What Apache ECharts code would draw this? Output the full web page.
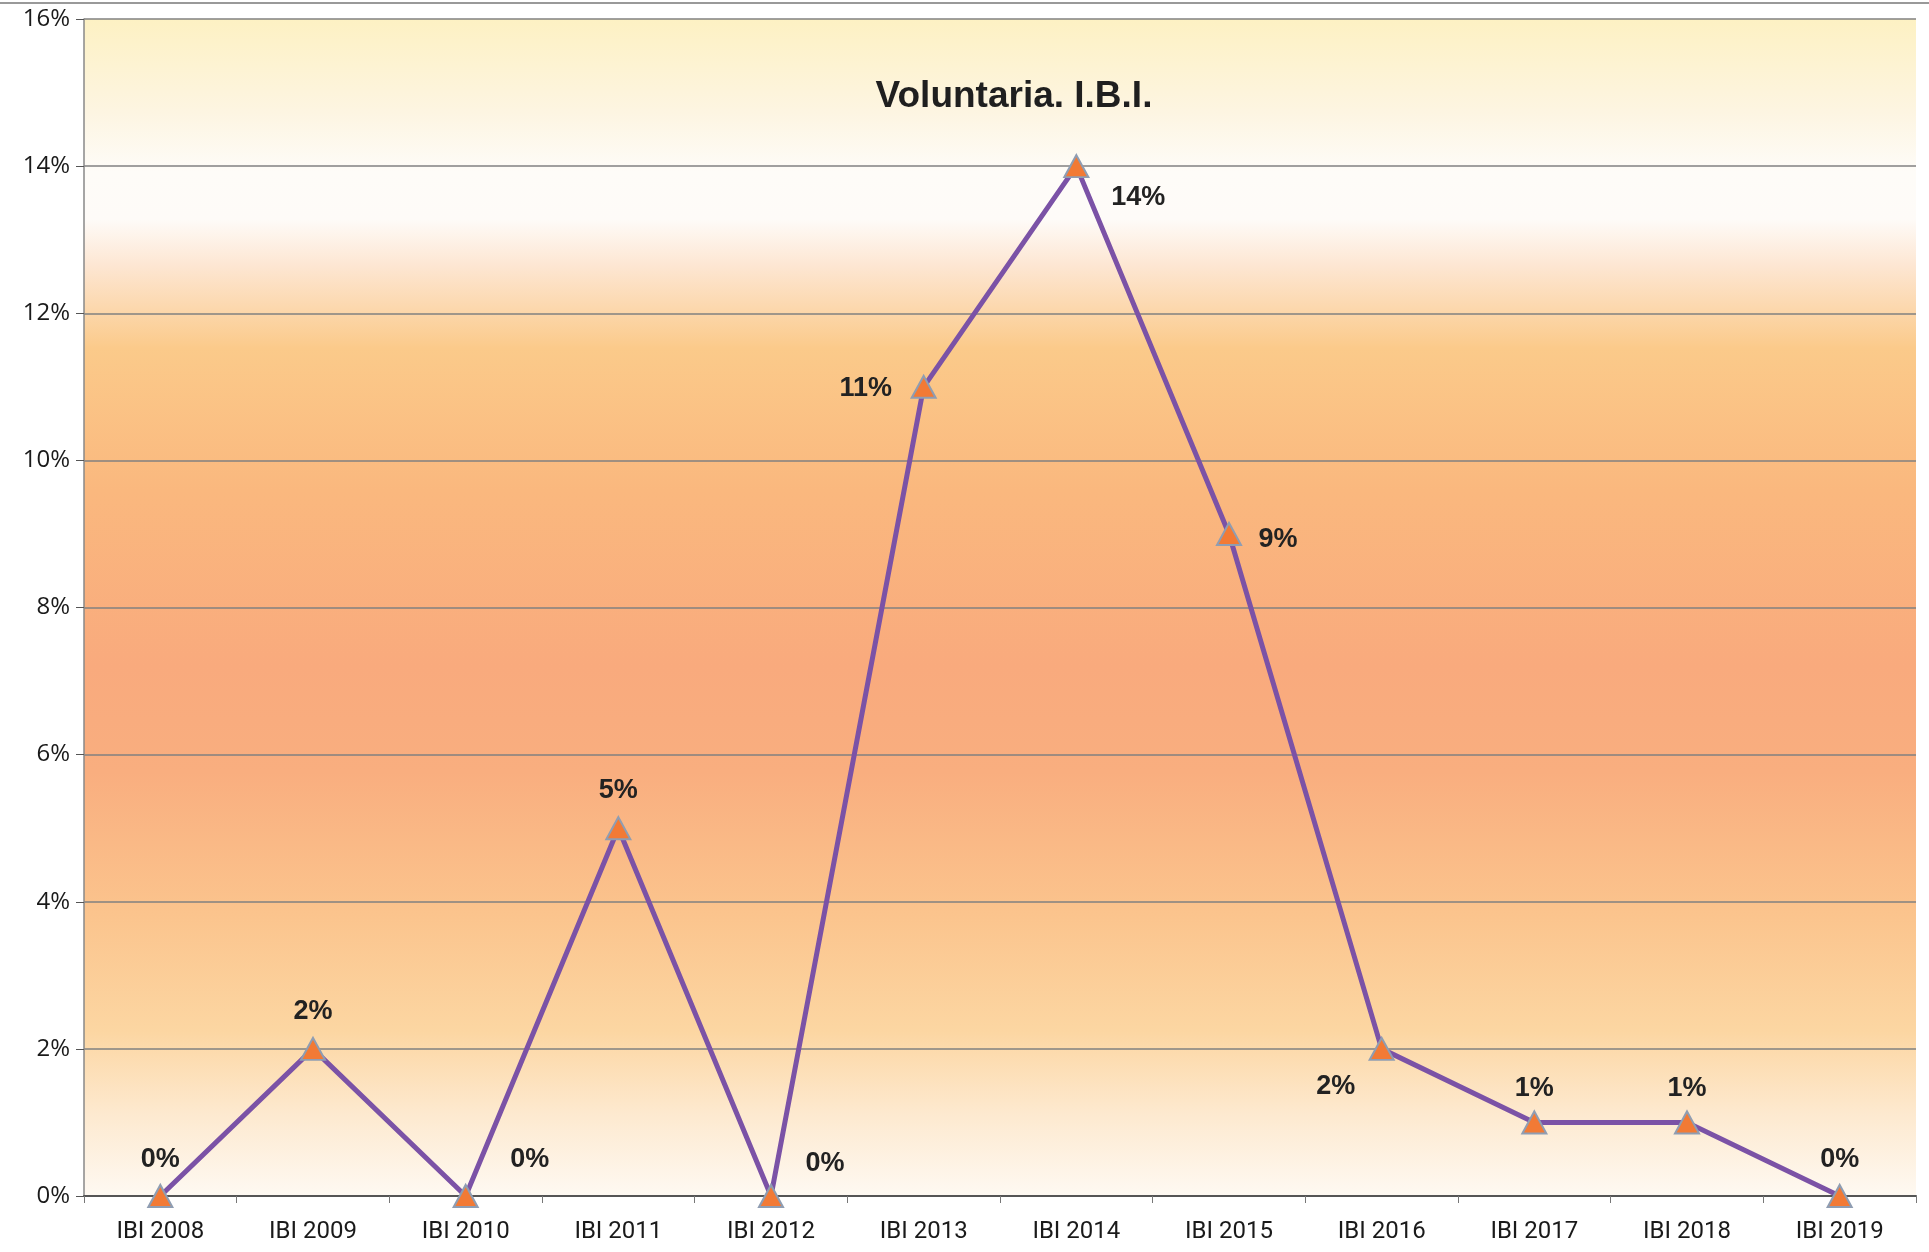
<!DOCTYPE html>
<html>
<head>
<meta charset="utf-8">
<script src="https://cdn.jsdelivr.net/npm/echarts@6/dist/echarts.min.js"></script>
<style>
html,body{margin:0;padding:0;background:#fff;}
#chart{width:1929px;height:1252px;}
</style>
</head>
<body>
<div id="chart"></div>
<script>
var categories = ['IBI 2008','IBI 2009','IBI 2010','IBI 2011','IBI 2012','IBI 2013','IBI 2014','IBI 2015','IBI 2016','IBI 2017','IBI 2018','IBI 2019'];
var values = [0, 2, 0, 5, 0, 11, 14, 9, 2, 1, 1, 0];
var yTicks = [0, 2, 4, 6, 8, 10, 12, 14, 16];
var titleText = 'Voluntaria. I.B.I.';

// label placement (style only)
var labelOffsets = [[0,-36],[0,-37],[64,-36],[0,-38],[54,-32],[-58,2],[62,31],[49,6],[-46,38],[0,-34],[0,-34],[0,-36]];

var chart = echarts.init(document.getElementById('chart'));
var seriesData = values.map(function(v, i){
  return {value: v, label: {offset: labelOffsets[i]}};
});
chart.setOption({
  animation: false,
  backgroundColor: '#ffffff',
  title: {
    text: titleText,
    left: 1009, top: 73, textAlign: 'center',
    textStyle: {fontFamily: 'Liberation Sans, Arial, sans-serif', fontWeight: 'bold', fontSize: 37, color: '#1f1f1f'}
  },
  grid: {left: 84, right: 13, top: 19, bottom: 56,
    show: true, borderWidth: 0,
    backgroundColor: new echarts.graphic.LinearGradient(0,0,0,1,[
      {offset:0, color:'#fdf1c3'},
      {offset:0.08, color:'#fdf5e2'},
      {offset:0.13, color:'#fefcf8'},
      {offset:0.17, color:'#fefbf8'},
      {offset:0.21, color:'#fde6d2'},
      {offset:0.28, color:'#fbca8a'},
      {offset:0.40, color:'#fab87e'},
      {offset:0.55, color:'#f9aa7d'},
      {offset:0.64, color:'#f9ae7f'},
      {offset:0.76, color:'#fbc48d'},
      {offset:0.86, color:'#fcd6a2'},
      {offset:0.93, color:'#fde9cf'},
      {offset:1, color:'#fef9f2'}
    ])
  },
  xAxis: {
    type: 'category',
    data: categories,
    boundaryGap: true,
    axisLine: {lineStyle: {color: '#555', width: 2}},
    axisTick: {show: true, length: 7, lineStyle: {color: '#777'}},
    axisLabel: {fontFamily: 'Roboto, sans-serif', fontSize: 24, color: '#1a1a1a', margin: 24},
    splitLine: {show: false}
  },
  yAxis: {
    type: 'value',
    min: 0, max: 16, interval: 2,
    axisLine: {show: true, lineStyle: {color: '#888', width: 1.5}},
    axisTick: {show: true, length: 8, lineStyle: {color: '#555'}},
    axisLabel: {formatter: '{value}%', fontFamily: 'Open Sans, sans-serif', fontSize: 24, color: '#1a1a1a', margin: 14},
    splitLine: {show: true, lineStyle: {color: '#808080', width: 1.6}}
  },
  graphic: [{
    type: 'line', shape: {x1: 0, y1: 3, x2: 1929, y2: 3},
    style: {stroke: '#999', lineWidth: 2}
  }],
  series: [{
    type: 'line',
    data: seriesData,
    symbol: 'triangle',
    symbolSize: [24, 22],
    lineStyle: {color: '#7b52a6', width: 5},
    itemStyle: {color: '#f27a35', borderColor: '#8f9db2', borderWidth: 2},
    label: {
      show: true, position: 'inside',
      formatter: '{c}%',
      fontFamily: 'Liberation Sans, Arial, sans-serif', fontWeight: 'bold', fontSize: 27, color: '#222'
    },
    z: 5
  }]
});
</script>
</body>
</html>
